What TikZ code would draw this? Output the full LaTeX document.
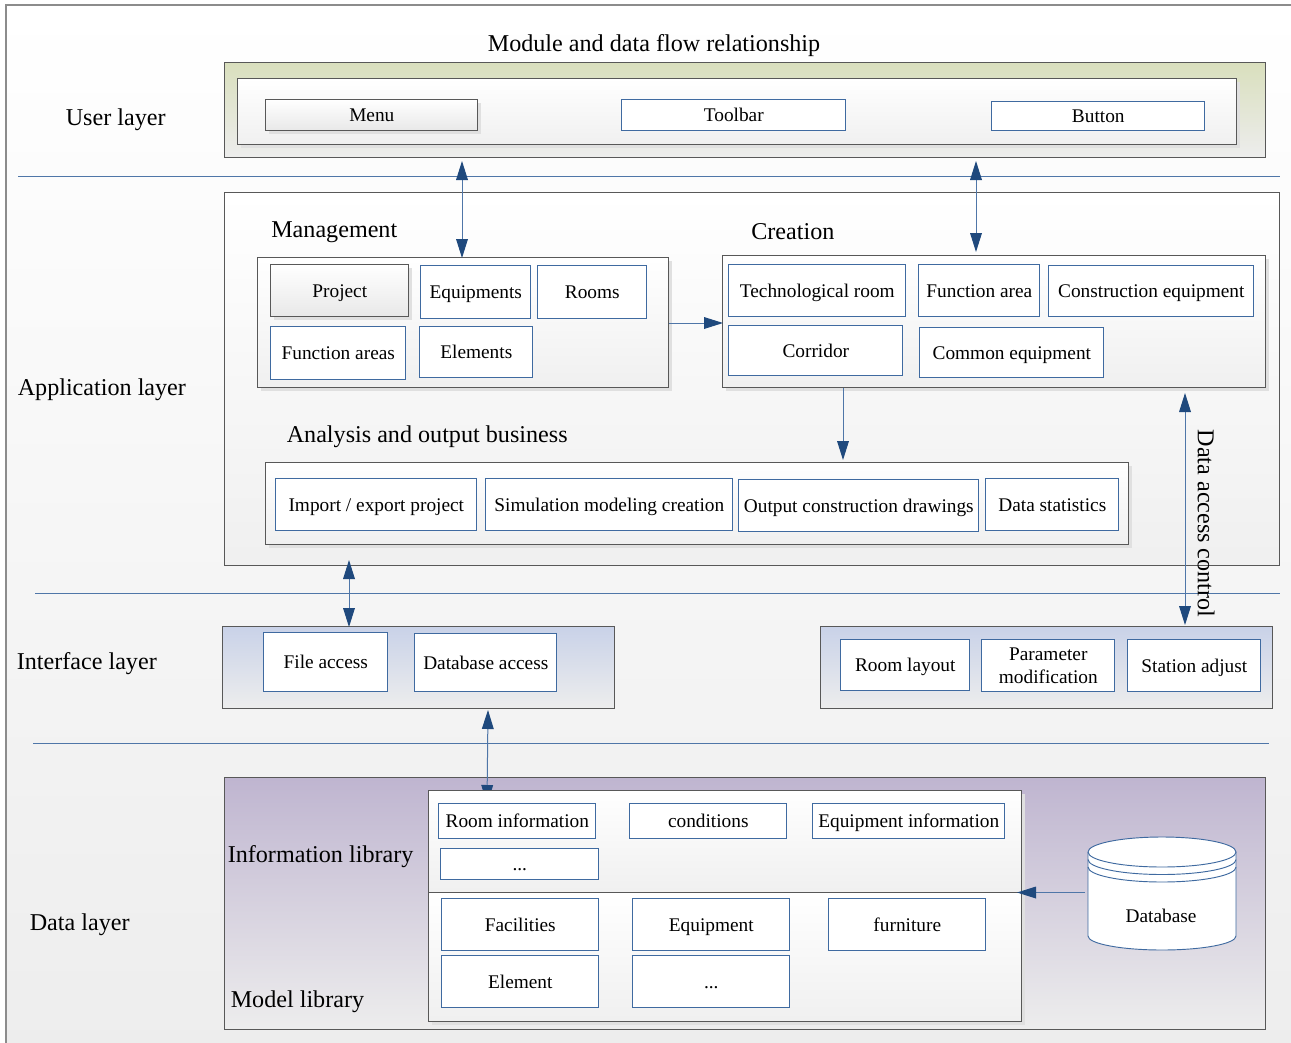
\documentclass[tikz,border=0pt]{standalone}
\usepackage{fontspec}
\setmainfont{Liberation Serif}
\usetikzlibrary{arrows.meta,shadows,calc}
\definecolor{linkblue}{HTML}{4F76A8}
\definecolor{boxblue}{HTML}{3F6AA0}
\definecolor{tipblue}{HTML}{1F497D}
\definecolor{edgegray}{HTML}{585858}
\definecolor{HTMLgreen}{HTML}{D9DFBD}
\definecolor{HTMLblue}{HTML}{C9D2E8}
\definecolor{HTMLpurple}{HTML}{BFB5D0}
\tikzset{
  x=0.75pt,y=-0.75pt,
  bodytext/.style={font=\fontsize{14.5}{17}\selectfont},
  headtext/.style={font=\fontsize{18.1}{21}\selectfont,inner sep=0pt},
  pbase/.style={inner sep=0pt,outer sep=0pt,align=center,bodytext,line width=0.7pt,text height=11.5pt,text depth=1.7pt},
  multiline/.style={text height={},text depth={}},
  softshadow/.style={drop shadow={shadow xshift=2.4pt,shadow yshift=-2.4pt,fill=black!12,opacity=1}},
  whitebox/.style={pbase,draw=boxblue,fill=white},
  graybox/.style={pbase,draw=edgegray,top color=white,bottom color=black!9,softshadow},
  panel/.style={pbase,draw=edgegray,top color=white,bottom color=black!6},
  panelshadow/.style={panel,softshadow},
  greenpanel/.style={pbase,draw=edgegray,top color=HTMLgreen,bottom color=black!7},
  bluepanel/.style={pbase,draw=edgegray,top color=HTMLblue,bottom color=black!7},
  purplepanel/.style={pbase,draw=edgegray,top color=HTMLpurple,bottom color=black!7},
  sepline/.style={draw=linkblue,line width=0.7pt},
  oneway/.style={draw=linkblue,line width=0.75pt,-{Triangle[length=14.25pt,width=8.8pt,color=tipblue]}},
  twoway/.style={draw=linkblue,line width=0.75pt,{Triangle[length=14.25pt,width=8.8pt,color=tipblue]}-{Triangle[length=14.25pt,width=8.8pt,color=tipblue]}},
  dbline/.style={draw=boxblue,line width=0.7pt},
}
\newcommand{\pbox}[7][]{%
  \pgfmathsetmacro{\pw}{(#5-#3)*0.75}%
  \pgfmathsetmacro{\ph}{(#6-#4)*0.75}%
  \node[#1,minimum width=\pw pt,minimum height=\ph pt] (#2) at ({(#3+#5)/2-0.2},{(#4+#6)/2-0.2}) {#7};}
\begin{document}
\begin{tikzpicture}
\clip (0,0) rectangle (1291,1042);
\fill[white] (0,0) rectangle (1291,1042);
\draw[draw=black!45,line width=1pt,top color=white,bottom color=black!7] (6,5) rectangle (1300,1050);

% labels
\node[headtext,anchor=center] (title) at (654,46) {Module and data flow relationship};
\node[headtext,anchor=west] (luser) at (65.5,120) {User layer};
\node[headtext,anchor=west] (lapp) at (17.5,390) {Application layer};
\node[headtext,anchor=west] (lint) at (16.5,664) {Interface layer};
\node[headtext,anchor=west] (ldata) at (29.5,925) {Data layer};

% separators
\coordinate (s1a) at (18,176); \coordinate (s1b) at (1280,176);
\coordinate (s2a) at (35,593); \coordinate (s2b) at (1280,593);
\coordinate (s3a) at (33,743); \coordinate (s3b) at (1269,743);
\draw[sepline] (s1a) -- (s1b);
\draw[sepline] (s2a) -- (s2b);
\draw[sepline] (s3a) -- (s3b);

% user layer
\pbox[greenpanel]{user}{225}{63}{1266}{158}{}
\pbox[panelshadow]{userin}{238}{79}{1237}{145}{}
\pbox[graybox]{menu}{266}{100}{478}{131}{Menu}
\pbox[whitebox]{toolbar}{622}{100}{846}{131}{Toolbar}
\pbox[whitebox]{button}{992}{102}{1205}{131}{Button}

% application layer
\pbox[panel]{app}{225}{193}{1280}{566}{}
\node[headtext,anchor=west] (lmgmt) at (271,232) {Management};
\pbox[panelshadow]{mgmt}{258}{258}{669}{388}{}
\pbox[graybox]{project}{271}{265}{409}{317}{Project}
\pbox[whitebox]{equipments}{421}{266}{531}{319}{Equipments}
\pbox[whitebox]{rooms}{538}{266}{647}{319}{Rooms}
\pbox[whitebox]{funcareas}{271}{327}{406}{380}{Function areas}
\pbox[whitebox]{elements}{420}{327}{533}{378}{Elements}

\node[headtext,anchor=west] (lcreate) at (751,231.5) {Creation};
\pbox[panelshadow]{create}{723}{256}{1266}{388}{}
\pbox[whitebox]{techroom}{729}{265}{906}{317}{Technological room}
\pbox[whitebox]{funcarea}{919}{265}{1040}{317}{Function area}
\pbox[whitebox]{consteq}{1049}{266}{1254}{317}{Construction equipment}
\pbox[whitebox]{corridor}{729}{326}{903}{376}{Corridor}
\pbox[whitebox]{commoneq}{920}{328}{1104}{378}{Common equipment}

\node[headtext,anchor=west] (lanalysis) at (286.5,437) {Analysis and output business};
\pbox[panelshadow]{analysis}{266}{463}{1129}{545}{}
\pbox[whitebox]{importp}{276}{479}{477}{531}{Import / export project}
\pbox[whitebox]{simul}{486}{479}{733}{531}{Simulation modeling creation}
\pbox[whitebox]{outdraw}{739}{480}{979}{532}{Output construction drawings}
\pbox[whitebox]{datastat}{986}{479}{1119}{531}{Data statistics}

% interface layer
\pbox[bluepanel]{ifleft}{223}{627}{615}{709}{}
\pbox[whitebox]{fileacc}{264}{633}{388}{692}{File access}
\pbox[whitebox]{dbacc}{415}{634}{557}{692}{Database access}
\pbox[bluepanel]{ifright}{821}{627}{1273}{709}{}
\pbox[whitebox]{roomlay}{841}{640}{970}{691}{Room layout}
\pbox[whitebox,multiline]{param}{982}{640}{1115}{692}{Parameter\\modification}
\pbox[whitebox]{station}{1128}{640}{1261}{692}{Station adjust}

% data layer
\pbox[purplepanel]{datal}{225}{778}{1266}{1030}{}
\node[headtext,anchor=west] (linfo) at (227.5,857) {Information library};
\node[headtext,anchor=west] (lmodel) at (230.5,1002) {Model library};

% arrow into the library: its lower tip is partly covered by the panel
\coordinate (c5) at (488,710);
\coordinate (c5b) at (487,804);
\draw[twoway] (c5) -- (c5b);

\pbox[panelshadow]{infomodel}{429}{791}{1022}{1022}{}
\pbox[panel]{infolib}{429}{791}{1022}{893}{}
\pbox[panel]{modellib}{429}{893}{1022}{1022}{}
\pbox[whitebox]{roominfo}{439}{804}{596}{839}{Room information}
\pbox[whitebox]{condit}{630}{804}{787}{839}{conditions}
\pbox[whitebox]{eqinfo}{813}{804}{1005}{839}{Equipment information}
\pbox[whitebox]{moreinfo}{441}{849}{599}{880}{...}
\pbox[whitebox]{facil}{442}{899}{599}{951}{Facilities}
\pbox[whitebox]{equip}{633}{899}{790}{951}{Equipment}
\pbox[whitebox]{furn}{829}{899}{986}{951}{furniture}
\pbox[whitebox]{elem}{442}{956}{599}{1008}{Element}
\pbox[whitebox]{moremodel}{633}{956}{790}{1008}{...}

% database cylinder (the y axis points down, so arcs through 270 degrees go up on the page)
\path[fill=white] (1088,852) arc[start angle=180,end angle=360,x radius=74,y radius=15]
  -- (1236,936) arc[start angle=0,end angle=180,x radius=74,y radius=14] -- cycle;
\draw[dbline] (1088,852) -- (1088,936) arc[start angle=180,end angle=0,x radius=74,y radius=14] -- (1236,852);
\draw[dbline] (1088,852) arc[start angle=180,end angle=-180,x radius=74,y radius=15];
\draw[dbline] (1088,859.5) arc[start angle=180,end angle=0,x radius=74,y radius=15];
\draw[dbline] (1088,867) arc[start angle=180,end angle=0,x radius=74,y radius=15];
\pbox[pbase]{db}{1088}{837}{1236}{950}{}
\node[bodytext,inner sep=0pt,text height=11.5pt,text depth=1.7pt] (dblabel) at (1161,916) {Database};

% connectors
\coordinate (c1) at (462,161);
\coordinate (c1b) at (462,258);
\draw[twoway] (c1) -- (c1b);
\coordinate (c2) at (976,161);
\coordinate (c2b) at (976,252);
\draw[twoway] (c2) -- (c2b);
\coordinate (c3) at (669,323);
\coordinate (c3b) at (723,323);
\draw[oneway] (c3) -- (c3b);
\coordinate (c4) at (843,388);
\coordinate (c4b) at (843,460);
\draw[oneway] (c4) -- (c4b);
\coordinate (c6) at (1185,393);
\coordinate (c6b) at (1185,625);
\draw[twoway] (c6) -- (c6b);
\coordinate (c7) at (349,560);
\coordinate (c7b) at (349,627);
\draw[twoway] (c7) -- (c7b);
\coordinate (c8) at (1085,892.5);
\coordinate (c8b) at (1017,892.5);
\draw[oneway] (c8) -- (c8b);

\node[headtext,rotate=-90] (laccess) at (1206,523.5) {Data access control};
\end{tikzpicture}
\end{document}
